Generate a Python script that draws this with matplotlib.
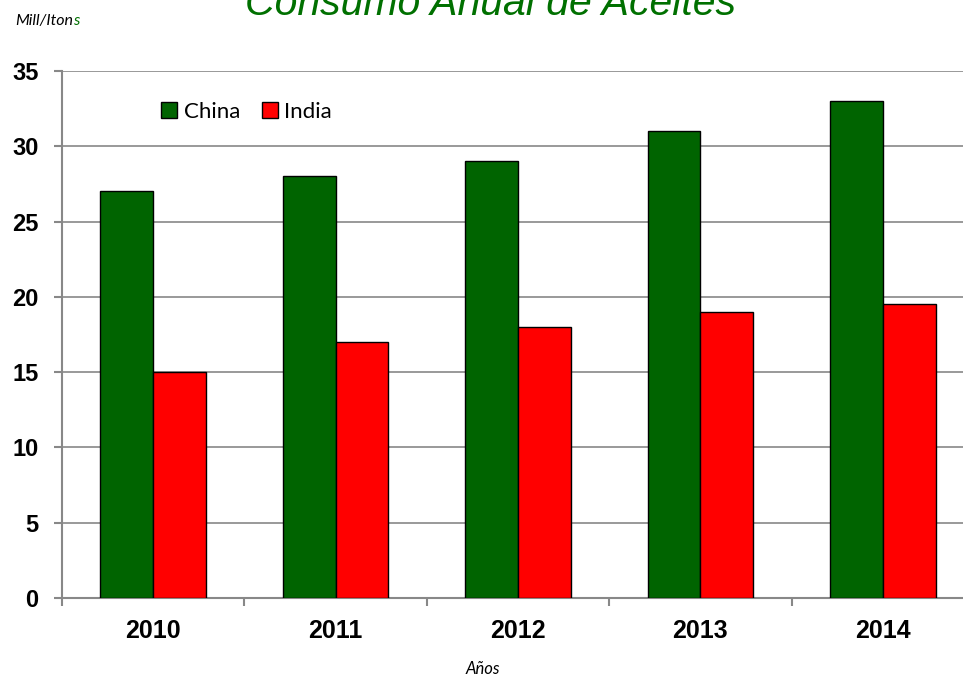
import matplotlib
matplotlib.use("Agg")
import matplotlib.pyplot as plt
import numpy as np

years = ["2010", "2011", "2012", "2013", "2014"]
china = [27, 28, 29, 31, 33]
india = [15, 17, 18, 19, 19.5]
yticks = [0, 5, 10, 15, 20, 25, 30, 35]

fig = plt.figure(figsize=(9.63, 6.77), dpi=100)
ax = fig.add_axes([62/963, 1-598/677, 912/963, (598-71)/677])

x = np.arange(len(years))
w = 0.29
ax.bar(x - w/2, china, w, color="#006400", edgecolor="black", linewidth=1, label="China", zorder=3)
ax.bar(x + w/2, india, w, color="#FF0000", edgecolor="black", linewidth=1, label="India", zorder=3)

ax.set_xlim(-0.5, len(years) - 0.5)
ax.set_ylim(0, 35)
ax.set_yticks(yticks)
ax.set_yticklabels([str(v) for v in yticks], fontsize=17, fontweight="bold", family="Liberation Sans")
ax.set_xticks(x)
ax.set_xticklabels(years, fontsize=18, fontweight="bold", family="Liberation Sans")
ax.set_xticks(np.arange(-0.5, len(years)), minor=True)
ax.tick_params(axis="x", which="major", length=0, pad=15)
ax.tick_params(axis="x", which="minor", length=6, color="#888888", width=1.5)
ax.tick_params(axis="y", length=6, color="#888888", width=1.5, pad=11)
ax.yaxis.grid(True, color="#888888", linewidth=1.2, zorder=0)
for s in ["top", "right"]:
    ax.spines[s].set_visible(False)
for s in ["left", "bottom"]:
    ax.spines[s].set_color("#888888")
    ax.spines[s].set_linewidth(1.5)

leg = ax.legend(loc="upper left", bbox_to_anchor=(0.087, 0.98), ncol=2, frameon=False,
                prop={"family": "Lato", "size": 16}, handlelength=0.7, handleheight=0.7,
                handletextpad=0.3, columnspacing=1.0)

fig.text(490/963, 1-15/677, "Consumo Anual de Aceites", ha="center", va="baseline",
         fontsize=29.5, style="italic", color="#007000", family="Liberation Sans")
t1 = fig.text(15/963, 1-25/677, "Mill/Iton", ha="left", va="baseline", fontsize=11.5,
              style="italic", family="Lato", color="black")
fig.canvas.draw()
bb = t1.get_window_extent(renderer=fig.canvas.get_renderer())
fig.text(bb.x1/963, 1-25/677, "s", ha="left", va="baseline", fontsize=11.5,
         style="italic", family="Lato", color="#007000")
fig.text(483/963, 1-674/677, "Años", ha="center", va="baseline", fontsize=12,
         style="italic", family="Lato")

fig.savefig("out.png", dpi=100)
